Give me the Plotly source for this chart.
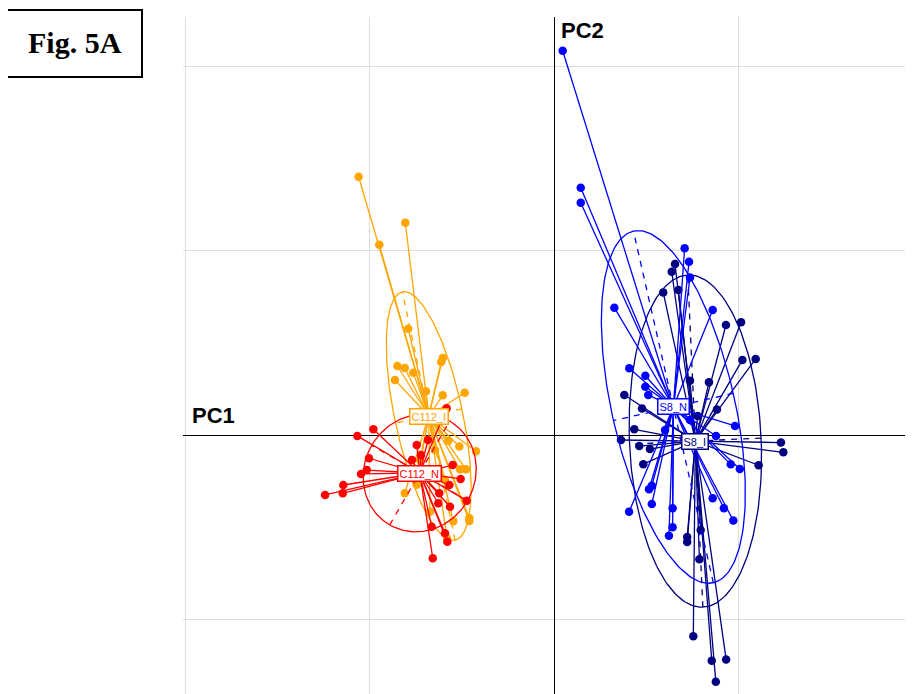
import numpy as np
import plotly.graph_objects as go

# ---------------- data (PCA scores) ----------------
c112_i_x = [-1.059, -0.806, -0.947, -0.790, -0.603, -0.611, -0.849, -0.809, -0.763, -0.862,
            -0.694, -0.603, -0.484, -0.572, -0.513, -0.423, -0.509, -0.477, -0.809, -0.744,
            -0.459, -0.459, -0.546, -0.672, -0.580, -0.645, -0.726, -0.591]
c112_i_y = [1.400, 1.151, 1.031, 0.576, 0.417, 0.396, 0.374, 0.363, 0.338, 0.298,
            0.237, 0.215, 0.229, -0.031, -0.062, -0.088, -0.186, -0.186, -0.316, -0.269,
            -0.450, -0.466, -0.468, -0.416, -0.558, -0.081, -0.136, -0.244]

c112_n_x = [-0.979, -1.066, -1.003, -1.015, -1.046, -1.142, -1.145, -1.241, -0.549, -0.506,
            -0.567, -0.622, -0.473, -0.627, -0.564, -0.663, -0.591, -0.578, -0.657, -0.582,
            -0.744, -0.721, -0.683, -0.770]
c112_n_y = [0.031, -0.005, -0.126, -0.190, -0.211, -0.271, -0.316, -0.325, -0.163, -0.238,
            -0.271, -0.316, -0.356, -0.370, -0.389, -0.497, -0.533, -0.578, -0.668, 0.145,
            -0.054, -0.108, -0.027, -0.136]

s8_n_x = [0.047, 0.145, 0.145, 0.327, 0.708, 0.732, 0.737, 0.860, 0.408, 0.495,
          0.495, 0.511, 0.981, 0.878, 0.958, 1.007, 0.530, 0.515, 0.407, 0.530,
          0.643, 0.860, 0.921, 0.972, 0.643, 0.623, 0.737, 0.602]
s8_n_y = [2.083, 1.340, 1.259, 0.690, 1.012, 0.939, 0.853, 0.678, 0.362, 0.321,
          0.262, 0.217, 0.049, -0.005, -0.159, -0.184, -0.275, -0.294, -0.416, -0.374,
          -0.397, -0.343, -0.397, -0.464, -0.500, -0.546, 0.081, 0.027]

s8_i_x = [0.656, 0.638, 0.592, 0.674, 0.932, 1.014, 1.021, 1.093, 0.381, 0.477,
          0.737, 0.840, 0.883, 0.435, 0.363, 0.462, 0.520, 1.230, 1.243, 1.109,
          0.484, 0.722, 0.722, 0.795, 0.788, 0.755, 0.855, 0.933, 0.877, 0.778]
s8_i_y = [0.927, 0.885, 0.773, 0.786, 0.596, 0.611, 0.407, 0.412, 0.217, 0.144,
          0.294, 0.286, 0.138, 0.031, -0.027, -0.060, -0.076, -0.041, -0.094, -0.164,
          -0.158, -0.553, -0.580, -0.515, -0.673, -1.091, -1.224, -1.217, -1.337, 0.103]

group_names = ["C112_I", "C112_N", "S8_I", "S8_N"]
group_colors = ["#FFA500", "#FF0000", "#000080", "#0000FF"]
centroid_x = [-0.679, -0.728, 0.766, 0.647]
centroid_y = [0.103, -0.206, -0.033, 0.152]
# ellipse: semi-major, semi-minor, angle of major axis (degrees)
ell_a = [0.688, 0.325, 0.901, 0.977]
ell_b = [0.184, 0.300, 0.357, 0.333]
ell_ang = [102.0, 60.0, 92.6, 102.8]

points_x = [c112_i_x, c112_n_x, s8_i_x, s8_n_x]
points_y = [c112_i_y, c112_n_y, s8_i_y, s8_n_y]

fig = go.Figure()

for g in range(4):
    col = group_colors[g]
    cx, cy = centroid_x[g], centroid_y[g]
    xs = points_x[g]
    ys = points_y[g]
    # star lines
    lx, ly = [], []
    for px, py in zip(xs, ys):
        lx += [cx, px, None]
        ly += [cy, py, None]
    fig.add_trace(go.Scatter(x=lx, y=ly, mode="lines",
                             line=dict(color=col, width=1.3), hoverinfo="skip",
                             showlegend=False))
    # ellipse
    th = np.deg2rad(ell_ang[g])
    t = np.linspace(0, 2 * np.pi, 200)
    a, b = ell_a[g], ell_b[g]
    ex = cx + a * np.cos(t) * np.cos(th) - b * np.sin(t) * np.sin(th)
    ey = cy + a * np.cos(t) * np.sin(th) + b * np.sin(t) * np.cos(th)
    fig.add_trace(go.Scatter(x=ex, y=ey, mode="lines",
                             line=dict(color=col, width=1.3), hoverinfo="skip",
                             showlegend=False))
    # dashed axes of the ellipse
    ax = [cx - a * np.cos(th), cx + a * np.cos(th), None,
          cx + b * np.sin(th), cx - b * np.sin(th)]
    ay = [cy - a * np.sin(th), cy + a * np.sin(th), None,
          cy - b * np.cos(th), cy + b * np.cos(th)]
    fig.add_trace(go.Scatter(x=ax, y=ay, mode="lines",
                             line=dict(color=col, width=1.3, dash="6px,6px"),
                             hoverinfo="skip", showlegend=False))
    # points
    fig.add_trace(go.Scatter(x=xs, y=ys, mode="markers",
                             marker=dict(color=col, size=8.5, line=dict(width=0)),
                             name=group_names[g], showlegend=False))

for g in range(4):
    fig.add_annotation(x=centroid_x[g], y=centroid_y[g], text=group_names[g],
                       showarrow=False, xref="x", yref="y",
                       font=dict(family="Liberation Sans, Arial", size=11,
                                 color=group_colors[g]),
                       bgcolor="white", bordercolor=group_colors[g],
                       borderwidth=1.5, borderpad=1)

# page geometry: the html body adds an 8px margin around the figure
BODY = 8
PAGE_W, PAGE_H = 913, 694
PLOT_L, PLOT_T = 183, 17          # plot area top-left on the page
W, H = PAGE_W - BODY, PAGE_H - BODY
L, T = PLOT_L - BODY, PLOT_T - BODY
pw, ph = PAGE_W - PLOT_L, PAGE_H - PLOT_T


def px2paper(px, py):
    return (px - PLOT_L) / pw, (PAGE_H - py) / ph


# axis titles
x1, y1 = px2paper(190, 416)
fig.add_annotation(x=x1, y=y1, xref="paper", yref="paper", text="<b>PC1</b>",
                   showarrow=False, xanchor="left", yanchor="middle",
                   font=dict(family="Liberation Sans, Arial", size=22, color="black"))
x2, y2 = px2paper(559, 30)
fig.add_annotation(x=x2, y=y2, xref="paper", yref="paper", text="<b>PC2</b>",
                   showarrow=False, xanchor="left", yanchor="middle",
                   font=dict(family="Liberation Sans, Arial", size=22, color="black"))

# Fig. 5A box
bx0, by0 = px2paper(7, 77)
bx1, by1 = px2paper(142, 10)
fig.add_shape(type="rect", xref="paper", yref="paper", x0=bx0, x1=bx1, y0=by0, y1=by1,
              line=dict(color="black", width=2), fillcolor="rgba(0,0,0,0)")
fx, fy = px2paper(74.5, 42)
fig.add_annotation(x=fx, y=fy, xref="paper", yref="paper", text="<b>Fig. 5A</b>",
                   showarrow=False, xanchor="center", yanchor="middle",
                   font=dict(family="Liberation Serif, Times New Roman", size=30,
                             color="black"))

unit = 184.5
x_lo = -(554 - PLOT_L) / unit
x_hi = (PAGE_W - 554) / unit
y_hi = (435 - PLOT_T) / unit
y_lo = -(PAGE_H - 435) / unit

fig.update_xaxes(range=[x_lo, x_hi], dtick=1, tick0=0, showgrid=True,
                 gridcolor="#DDDDDD", gridwidth=1, zeroline=True,
                 zerolinecolor="black", zerolinewidth=1, showticklabels=False,
                 showline=False, ticks="")
fig.update_yaxes(range=[y_lo, y_hi], dtick=1, tick0=0, showgrid=True,
                 gridcolor="#DDDDDD", gridwidth=1, zeroline=True,
                 zerolinecolor="black", zerolinewidth=1, showticklabels=False,
                 showline=False, ticks="")

fig.update_layout(width=W, height=H, margin=dict(l=L, r=0, t=T, b=0, pad=0),
                  plot_bgcolor="white", paper_bgcolor="white", showlegend=False)

fig.write_html("out.html")
